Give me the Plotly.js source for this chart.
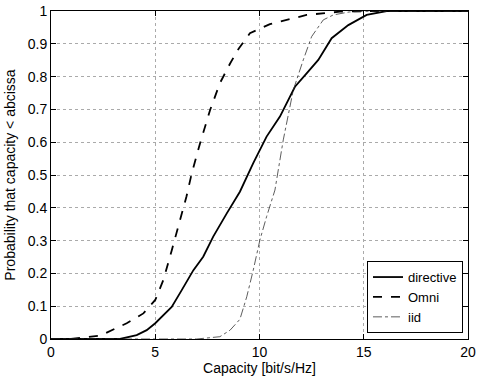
<!DOCTYPE html>
<html><head><meta charset="utf-8">
<script src="https://cdn.plot.ly/plotly-3.0.1.min.js"></script>
<style>html,body{margin:0;padding:0;background:#fff}#chart{width:481px;height:381px}</style>
</head><body><div id="chart"></div>
<script>
const directiveX = [0, 3.31, 4.11, 4.59, 5.0, 5.39, 5.79, 6.27, 6.83, 7.3, 7.78, 8.43, 9.06, 9.7, 10.34, 10.98, 11.7, 12.26, 12.82, 13.46, 14.26, 15.14, 16.1, 20];
const directiveY = [0, 0, 0.012, 0.027, 0.048, 0.073, 0.098, 0.149, 0.21, 0.251, 0.312, 0.383, 0.449, 0.536, 0.617, 0.678, 0.769, 0.81, 0.851, 0.917, 0.957, 0.988, 1.0, 1.0];
const omniX = [0.96, 2.35, 3.63, 4.43, 5.0, 5.39, 5.79, 6.19, 6.5, 6.75, 7.15, 7.63, 8.1, 8.59, 9.0, 9.54, 10.5, 12.26, 13.86, 15.5, 20];
const omniY = [0, 0.01, 0.048, 0.078, 0.119, 0.18, 0.27, 0.363, 0.435, 0.505, 0.597, 0.698, 0.78, 0.84, 0.885, 0.932, 0.96, 0.988, 0.998, 1.0, 1.0];
const iidX = [0, 6.99, 8.1, 8.59, 9.06, 9.39, 9.7, 10.02, 10.34, 10.74, 11.14, 11.62, 12.1, 12.5, 13.06, 13.54, 14.3, 15.6, 20];
const iidY = [0, 0, 0.007, 0.027, 0.06, 0.129, 0.21, 0.302, 0.373, 0.454, 0.607, 0.759, 0.851, 0.922, 0.973, 0.988, 0.997, 1.0, 1.0];
const xTicks = [0, 5, 10, 15, 20];
const yTicks = [0, 0.1, 0.2, 0.3, 0.4, 0.5, 0.6, 0.7, 0.8, 0.9, 1];
const yTickText = ['0', '0.1', '0.2', '0.3', '0.4', '0.5', '0.6', '0.7', '0.8', '0.9', '1'];

const FONT = 'Liberation Sans, Arial, sans-serif';
const traces = [
  {x: directiveX, y: directiveY, name: 'directive', mode: 'lines', line: {color: '#000', width: 1.8, dash: 'solid'}},
  {x: omniX, y: omniY, name: 'Omni', mode: 'lines', line: {color: '#000', width: 1.8, dash: 'dash'}},
  {x: iidX, y: iidY, name: 'iid', mode: 'lines', line: {color: '#333', width: 0.8, dash: 'dashdot'}}
];
const axisCommon = {
  showline: true, linecolor: '#000', linewidth: 1, mirror: 'ticks',
  ticks: 'inside', ticklen: 5, tickcolor: '#000',
  showgrid: true, gridcolor: '#aaa', griddash: 'dot', gridwidth: 1,
  zeroline: false, tickfont: {family: FONT, size: 14, color: '#000'}
};
const layout = {
  width: 481, height: 381,
  margin: {l: 51, r: 13, t: 11, b: 42},
  paper_bgcolor: '#fff', plot_bgcolor: '#fff',
  showlegend: true,
  legend: {x: 0.988, y: 0.018, xanchor: 'right', yanchor: 'bottom', bgcolor: '#fff', bordercolor: '#000', borderwidth: 1,
    font: {family: FONT, size: 13, color: '#000'}, tracegroupgap: 0, itemwidth: 30},
  xaxis: Object.assign({}, axisCommon, {range: [0, 20], tickvals: xTicks, ticktext: xTicks.map(String),
    title: {text: 'Capacity [bit/s/Hz]', standoff: 0, font: {family: FONT, size: 14, color: '#000'}}}),
  yaxis: Object.assign({}, axisCommon, {range: [0, 1], tickvals: yTicks, ticktext: yTickText,
    title: {text: 'Probability that capacity < abcissa', standoff: 8, font: {family: FONT, size: 14, color: '#000'}}})
};
Plotly.newPlot('chart', traces, layout, {staticPlot: true, displayModeBar: false});
</script></body></html>
